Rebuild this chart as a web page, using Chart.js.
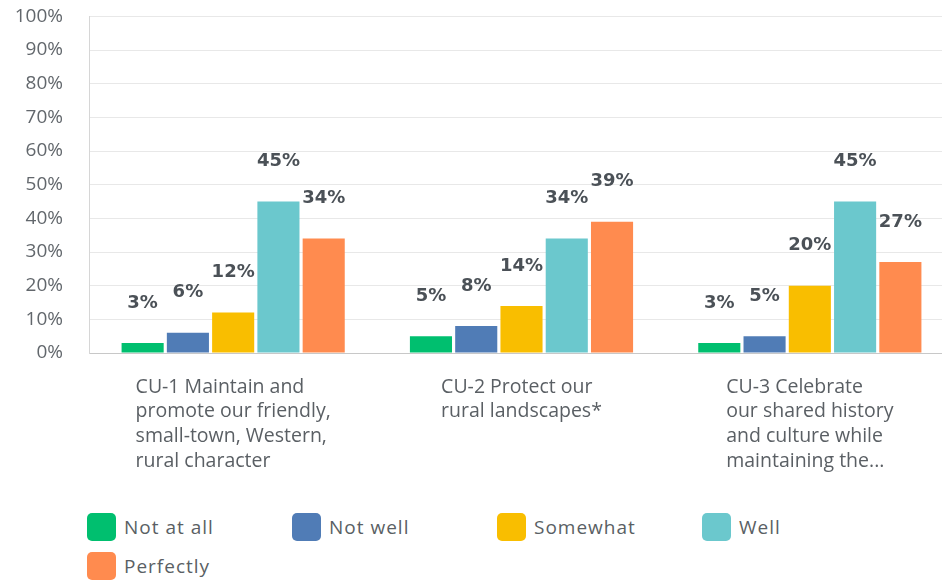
<!DOCTYPE html>
<html>
<head>
<meta charset="utf-8">
<script src="https://cdn.jsdelivr.net/npm/chart.js@4.4.1/dist/chart.umd.min.js"></script>
<style>
  html, body { margin: 0; padding: 0; background: #fff; overflow: hidden; width: 942px; height: 581px; }
  #wrap { position: absolute; left: 0; top: -21px; width: 954px; height: 511px; }
  #legend { position: absolute; left: 87px; top: 513px; width: 850px; font-family: "Open Sans", sans-serif; font-size: 19px; letter-spacing: 1px; color: #5a5f64; }
  .item { display: inline-flex; align-items: center; width: 205px; height: 28px; margin-bottom: 11px; }
  .box { width: 29px; height: 28px; border-radius: 5px; margin-right: 8px; }
</style>
</head>
<body>
<div id="wrap"><canvas id="chart" width="954" height="511"></canvas></div>
<div id="legend"></div>
<script>
var categories = [
    ["CU-1 Maintain and", "promote our friendly,", "small-town, Western,", "rural character"],
    ["CU-2 Protect our", "rural landscapes*"],
    ["CU-3 Celebrate", "our shared history", "and culture while", "maintaining the..."]
];
var seriesNames = ["Not at all", "Not well", "Somewhat", "Well", "Perfectly"];
var seriesColors = ["#00bf6f", "#507cb6", "#f9be00", "#6bc8cd", "#ff8b4f"];
var notAtAll = [3, 5, 3];
var notWell = [6, 8, 5];
var somewhat = [12, 14, 20];
var well = [45, 34, 45];
var perfectly = [34, 39, 27];
var yTicks = [0, 10, 20, 30, 40, 50, 60, 70, 80, 90, 100];

var values = [notAtAll, notWell, somewhat, well, perfectly];

// labels above each bar
var barLabels = {
    id: "barLabels",
    afterDatasetsDraw: function(chart) {
        var ctx = chart.ctx;
        ctx.save();
        ctx.font = "bold 18px 'DejaVu Sans'";
        ctx.fillStyle = "#4b5157";
        ctx.textAlign = "center";
        ctx.textBaseline = "middle";
        chart.data.datasets.forEach(function(ds, i) {
            chart.getDatasetMeta(i).data.forEach(function(bar, j) {
                ctx.fillText(ds.data[j] + "%", bar.x, bar.y - 40);
            });
        });
        ctx.restore();
    }
};

// multi-line category labels, left aligned inside a centred block
var catLabels = {
    id: "catLabels",
    afterDraw: function(chart) {
        var ctx = chart.ctx;
        var xs = chart.scales.x;
        ctx.save();
        ctx.font = "19.5px 'Open Sans'";
        ctx.fillStyle = "#5a5f64";
        ctx.textAlign = "left";
        ctx.textBaseline = "middle";
        categories.forEach(function(lines, i) {
            var w = 0;
            lines.forEach(function(l) { w = Math.max(w, ctx.measureText(l).width); });
            var left = xs.getPixelForValue(i) - w / 2;
            lines.forEach(function(l, k) {
                ctx.fillText(l, left, chart.chartArea.bottom + 34 + k * 24.7);
            });
        });
        ctx.restore();
    }
};

var datasets = seriesNames.map(function(name, i) {
    return {
        label: name,
        data: values[i],
        backgroundColor: seriesColors[i],
        borderWidth: 0,
        categoryPercentage: 0.785,
        barPercentage: 0.93
    };
});

new Chart(document.getElementById("chart"), {
    type: "bar",
    data: {
        labels: categories.map(function(c) { return c.join(" "); }),
        datasets: datasets
    },
    options: {
        responsive: false,
        animation: false,
        layout: { padding: { top: 0, bottom: 129, left: 0, right: 0 } },
        plugins: {
            legend: { display: false },
            tooltip: { enabled: false }
        },
        scales: {
            x: {
                ticks: { display: false },
                grid: { display: false },
                border: { color: "#c8c8c8", width: 1 }
            },
            y: {
                min: 0,
                max: 100,
                afterBuildTicks: function(s) { s.ticks = yTicks.map(function(v) { return { value: v }; }); },
                afterFit: function(s) { s.width = 89; },
                ticks: {
                    padding: 26,
                    color: "#62676c",
                    font: { family: "Open Sans", size: 19 },
                    callback: function(v) { return v + "%"; }
                },
                grid: { color: "#e8e8e8", drawTicks: false },
                border: { color: "#d6d6d6", width: 1 }
            }
        }
    },
    plugins: [barLabels, catLabels]
});

var legend = document.getElementById("legend");
seriesNames.forEach(function(name, i) {
    var item = document.createElement("span");
    item.className = "item";
    var box = document.createElement("span");
    box.className = "box";
    box.style.background = seriesColors[i];
    item.appendChild(box);
    item.appendChild(document.createTextNode(name));
    legend.appendChild(item);
});
</script>
</body>
</html>
